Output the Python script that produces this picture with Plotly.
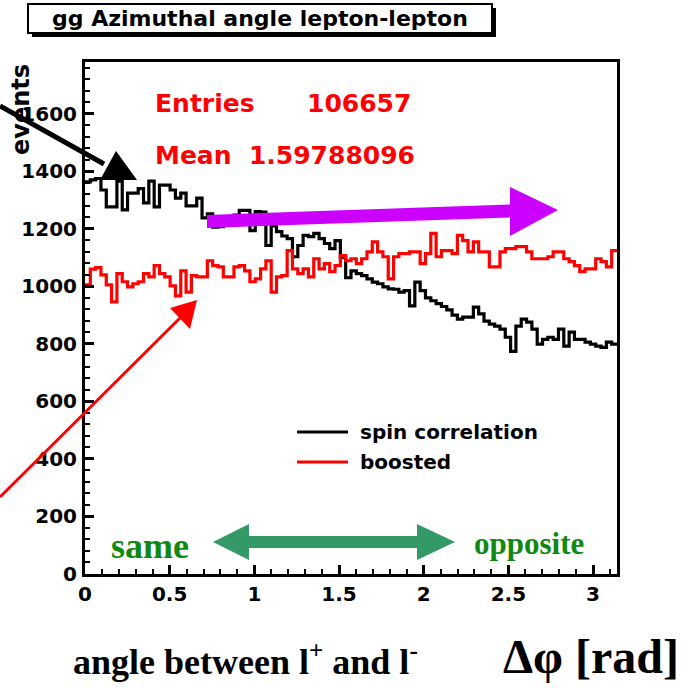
import numpy as np
import plotly.graph_objects as go

# ---------------- data ----------------
spin_correlation = [
    1363, 1370, 1375, 1335, 1276, 1276, 1366, 1266, 1324, 1324,
    1340, 1290, 1366, 1276, 1352, 1352, 1335, 1307, 1324, 1280,
    1280, 1307, 1238, 1252, 1206, 1208, 1240, 1232, 1248, 1264,
    1264, 1194, 1260, 1258, 1142, 1210, 1190, 1175, 1166, 1103,
    1142, 1177, 1173, 1184, 1166, 1149, 1131, 1159, 1100, 1030,
    1054, 1044, 1037, 1026, 1015, 1009, 998, 991, 990, 980,
    985, 932, 1015, 985, 960, 950, 940, 930, 918, 900,
    886, 893, 893, 928, 904, 879, 869, 862, 851, 823,
    774, 862, 886, 876, 851, 799, 816, 823, 816, 851,
    792, 841, 816, 816, 806, 799, 792, 788, 806, 799,
]
boosted = [
    1005, 1060, 1065, 1040, 1005, 946, 1044, 1016, 998, 1009,
    1016, 1044, 1033, 1072, 1044, 1033, 1002, 967, 1054, 980,
    1037, 1033, 1033, 1089, 1072, 1068, 1033, 1033, 1068, 1072,
    1054, 1016, 1026, 1061, 1089, 980, 1033, 1037, 1124, 1061,
    1044, 1061, 1033, 1096, 1061, 1079, 1051, 1072, 1107, 1089,
    1096, 1079, 1096, 1120, 1155, 1120, 1103, 1026, 1103, 1114,
    1114, 1120, 1120, 1079, 1114, 1184, 1103, 1124, 1124, 1114,
    1177, 1159, 1120, 1155, 1120, 1120, 1068, 1068, 1120, 1131,
    1131, 1138, 1138, 1120, 1096, 1096, 1096, 1103, 1120, 1120,
    1096, 1086, 1072, 1051, 1061, 1061, 1096, 1086, 1068, 1124,
]
series_names = ["spin correlation", "boosted"]
x_min, x_max, n_bins = 0.0, np.pi, 100
x_ticks = [0, 0.5, 1, 1.5, 2, 2.5, 3]
y_ticks = [0, 200, 400, 600, 800, 1000, 1200, 1400, 1600]
title_text = "gg Azimuthal angle lepton-lepton"
stats_entries = "106657"
stats_mean = "1.59788096"

assert len(spin_correlation) == n_bins and len(boosted) == n_bins

# ---------------- layout geometry ----------------
W, H = 690, 688
L, R, T, B = 85, 617, 62, 574  # plot area in pixels
PW, PH = R - L, B - T


def P(px, py):
    """pixel -> paper coordinates"""
    return (px - L) / PW, (B - py) / PH


def path(points):
    pts = [P(x, y) for x, y in points]
    return "M " + " L ".join(f"{a:.5f},{b:.5f}" for a, b in pts) + " Z"


edges = np.linspace(x_min, x_max, n_bins + 1)


def step_xy(vals):
    xs = list(edges)
    ys = list(vals) + [vals[-1]]
    return xs, ys


fig = go.Figure()
for name, vals, col in [(series_names[0], spin_correlation, "black"),
                        (series_names[1], boosted, "#ff0000")]:
    xs, ys = step_xy(vals)
    fig.add_trace(go.Scatter(x=xs, y=ys, mode="lines", name=name,
                             line=dict(color=col, width=3.2, shape="hv"),
                             showlegend=False, hoverinfo="skip"))

tickfont = dict(family="DejaVu Sans", size=20, color="black", weight="bold")
fig.update_layout(
    width=W, height=H,
    margin=dict(l=L, r=W - R, t=T, b=H - B, pad=0),
    paper_bgcolor="white", plot_bgcolor="white",
    showlegend=False,
    xaxis=dict(range=[x_min, x_max], tickvals=x_ticks,
               ticktext=[f"{v:g}" for v in x_ticks],
               ticks="inside", ticklen=9, tickwidth=3, tickcolor="black",
               minor=dict(dtick=0.1, tick0=0, ticks="inside", ticklen=5,
                          tickwidth=2, tickcolor="black"),
               showline=True, linewidth=3, linecolor="black", mirror=True,
               showgrid=False, zeroline=False, tickfont=tickfont),
    yaxis=dict(range=[0, 1780], tickvals=y_ticks,
               ticktext=[str(v) for v in y_ticks],
               ticks="inside", ticklen=9, tickwidth=3, tickcolor="black",
               minor=dict(dtick=40, tick0=0, ticks="inside", ticklen=5,
                          tickwidth=2, tickcolor="black"),
               showline=True, linewidth=3, linecolor="black", mirror=True,
               showgrid=False, zeroline=False, tickfont=tickfont,
               ticklabelstandoff=1),
)

shapes = []
# title box with shadow
x0, y0 = P(32, 8); x1, y1 = P(496, 37)
shapes.append(dict(type="rect", xref="paper", yref="paper", x0=x0, y0=y0, x1=x1, y1=y1,
                   fillcolor="black", line=dict(width=0)))
x0, y0 = P(28, 4); x1, y1 = P(492, 33)
shapes.append(dict(type="rect", xref="paper", yref="paper", x0=x0, y0=y0, x1=x1, y1=y1,
                   fillcolor="white", line=dict(color="black", width=2)))

# black arrow
a, b = P(0, 106); c, d = P(104, 164)
shapes.append(dict(type="line", xref="paper", yref="paper", x0=a, y0=b, x1=c, y1=d,
                   line=dict(color="black", width=5)))
shapes.append(dict(type="path", xref="paper", yref="paper",
                   path=path([(116, 151), (100, 180), (137, 180)]),
                   fillcolor="black", line=dict(width=0)))
# red arrow
a, b = P(0, 497); c, d = P(182, 316)
shapes.append(dict(type="line", xref="paper", yref="paper", x0=a, y0=b, x1=c, y1=d,
                   line=dict(color="#ff0000", width=3)))
shapes.append(dict(type="path", xref="paper", yref="paper",
                   path=path([(197, 300), (170, 308), (190, 329)]),
                   fillcolor="#ff0000", line=dict(width=0)))
# purple arrow
shapes.append(dict(type="path", xref="paper", yref="paper",
                   path=path([(207, 215), (510, 204.5), (510, 187), (558, 210),
                              (510, 236), (510, 217.5), (207, 228)]),
                   fillcolor="#cc00ff", line=dict(width=0)))
# green double arrow
shapes.append(dict(type="path", xref="paper", yref="paper",
                   path=path([(213, 542), (249, 524), (249, 536), (417, 536), (417, 524),
                              (455, 542), (417, 560), (417, 548), (249, 548), (249, 560)]),
                   fillcolor="#339966", line=dict(width=0)))
# legend lines
for yy, col in [(432, "black"), (462, "#ff0000")]:
    a, b = P(297, yy); c, d = P(348, yy)
    shapes.append(dict(type="line", xref="paper", yref="paper", x0=a, y0=b, x1=c, y1=d,
                       line=dict(color=col, width=3)))
fig.update_layout(shapes=shapes)


def ann(text, px, py, size, color="black", family="DejaVu Sans", xanchor="center",
        yanchor="middle", angle=0, weight="bold"):
    xp, yp = P(px, py)
    fig.add_annotation(text=text, x=xp, y=yp, xref="paper", yref="paper",
                       showarrow=False, xanchor=xanchor, yanchor=yanchor,
                       textangle=angle,
                       font=dict(family=family, size=size, color=color, weight=weight))


ann(title_text, 260, 18, 22)
ann("events", 21, 110, 24, angle=-90)
ann("Entries", 153, 103, 25, color="#ff0000", xanchor="left")
ann(stats_entries, 305, 103, 25, color="#ff0000", xanchor="left")
ann("Mean  " + stats_mean, 153, 155, 25, color="#ff0000", xanchor="left")
ann(series_names[0], 358, 432, 20, xanchor="left")
ann(series_names[1], 358, 462, 20, xanchor="left")
ann("same", 150, 546, 36, color="#118811", family="Liberation Serif")
ann("opposite", 529, 543, 31, color="#118811", family="Liberation Serif")
ann("angle between l<sup>+</sup> and l<sup>-</sup>", 245, 659, 36, family="Liberation Serif")
ann("Δφ [rad]", 681, 656, 48, family="Liberation Serif", xanchor="right")

fig.write_html("out.html")
